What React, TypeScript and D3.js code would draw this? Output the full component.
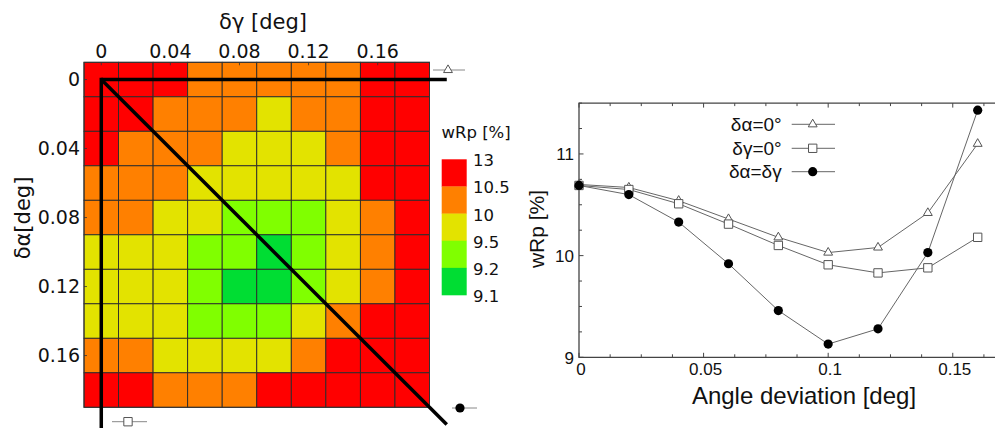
import React from "react";
import * as d3 from "d3";

// ---------- data ----------
const steps = [0, 0.02, 0.04, 0.06, 0.08, 0.1, 0.12, 0.14, 0.16, 0.18];
const heatTicks = [0, 0.04, 0.08, 0.12, 0.16];
const heatTickLabels = ["0", "0.04", "0.08", "0.12", "0.16"];

// rows: δα, columns: δγ
const wRpGrid = [
  [10.7, 10.67, 10.54, 10.36, 10.18, 10.03, 10.08, 10.42, 11.1, 11.9],
  [10.65, 10.6, 10.45, 10.3, 10.12, 9.98, 10.05, 10.3, 10.9, 11.6],
  [10.51, 10.45, 10.33, 10.15, 9.9, 9.8, 9.85, 10.2, 10.8, 11.4],
  [10.31, 10.25, 10.1, 9.92, 9.75, 9.62, 9.7, 9.95, 10.6, 11.2],
  [10.1, 10.02, 9.9, 9.7, 9.46, 9.35, 9.4, 9.75, 10.35, 11.0],
  [9.91, 9.85, 9.75, 9.48, 9.3, 9.13, 9.22, 9.6, 10.25, 10.9],
  [9.83, 9.78, 9.7, 9.4, 9.18, 9.15, 9.28, 9.65, 10.3, 11.0],
  [9.88, 9.82, 9.72, 9.45, 9.32, 9.38, 9.7, 10.03, 10.7, 11.3],
  [10.18, 10.1, 9.95, 9.8, 9.75, 9.9, 10.3, 10.8, 11.43, 12.0],
  [10.9, 10.7, 10.45, 10.3, 10.35, 10.6, 11.0, 11.5, 12.1, 12.6],
];

const binEdges = [13, 10.5, 10, 9.5, 9.2, 9.1];
const binEdgeLabels = ["13", "10.5", "10", "9.5", "9.2", "9.1"];
const binColors = ["#ff0000", "#ff8000", "#e3e300", "#80ff00", "#00dd33"];

const lineX = [0, 0.02, 0.04, 0.06, 0.08, 0.1, 0.12, 0.14, 0.16];
const dAlpha0 = [10.7, 10.67, 10.54, 10.36, 10.18, 10.03, 10.08, 10.42, 11.1];
const dGamma0 = [10.69, 10.65, 10.51, 10.31, 10.1, 9.91, 9.83, 9.88, 10.18];
const dEqual = [10.69, 10.6, 10.33, 9.92, 9.46, 9.13, 9.28, 10.03, 11.43];
const lineXTicks = [0, 0.05, 0.1, 0.15];
const lineXTickLabels = ["0", "0.05", "0.1", "0.15"];
const lineYTicks = [9, 10, 11];
const seriesNames = ["δα=0°", "δγ=0°", "δα=δγ"];

// ---------- helpers ----------
const HF = "'DejaVu Sans', Verdana, sans-serif";
const LF = "'Liberation Sans', Arial, sans-serif";
const lineGray = "#666";

function Marker({ kind, x, y }: { kind: string; x: number; y: number }) {
  if (kind === "tri") {
    const p = d3.symbol().type(d3.symbolTriangle).size(34)();
    return <path d={p || ""} transform={`translate(${x},${y})`} fill="#fff" stroke="#555" strokeWidth={1} />;
  }
  if (kind === "sq") {
    const p = d3.symbol().type(d3.symbolSquare).size(70)();
    return <path d={p || ""} transform={`translate(${x},${y})`} fill="#fff" stroke="#555" strokeWidth={1} />;
  }
  return <circle cx={x} cy={y} r={4.6} fill="#000" />;
}

export default function App() {
  // heatmap scales
  const xH = d3.scaleLinear().domain([-0.01, 0.19]).range([84, 429.5]);
  const yH = d3.scaleLinear().domain([-0.01, 0.19]).range([62.3, 407.3]);
  const color = d3
    .scaleThreshold<number, string>()
    .domain(binEdges.slice(1, 5).reverse())
    .range(binColors.slice().reverse());

  // colorbar scale
  const yCB = d3.scaleLinear().domain([0, binEdges.length - 1]).range([159.3, 295]);

  // line chart scales
  const xL = d3.scaleLinear().domain([0, 0.17]).range([579, 1002.6]);
  const yL = d3.scaleLinear().domain([9, 11.5]).range([357.3, 103.1]);
  const line = d3
    .line<number>()
    .x((_, i) => xL(lineX[i]))
    .y((d) => yL(d));

  const series = [
    { name: seriesNames[0], vals: dAlpha0, kind: "tri" },
    { name: seriesNames[1], vals: dGamma0, kind: "sq" },
    { name: seriesNames[2], vals: dEqual, kind: "dot" },
  ];

  const xMinor = d3.range(0, 0.1701, 0.0125);
  const yMinor = d3.range(9, 11.501, 0.25);

  const x0 = xH(0);
  const y0 = yH(0);

  return (
    <svg
      width={995}
      height={428}
      style={{ position: "absolute", left: 0, top: 0, background: "#fff" }}
    >
      <rect x={0} y={0} width={995} height={428} fill="#fff" />

      {/* ---------- heatmap ---------- */}
      <g>
        {wRpGrid.map((row, r) =>
          row.map((v, c) => (
            <rect
              key={`${r}-${c}`}
              x={xH(steps[c] - 0.01)}
              y={yH(steps[r] - 0.01)}
              width={xH(steps[c] + 0.01) - xH(steps[c] - 0.01)}
              height={yH(steps[r] + 0.01) - yH(steps[r] - 0.01)}
              fill={color(v)}
              stroke="#2a2a2a"
              strokeWidth={0.9}
            />
          ))
        )}
        <rect
          x={xH(-0.01)}
          y={yH(-0.01)}
          width={xH(0.19) - xH(-0.01)}
          height={yH(0.19) - yH(-0.01)}
          fill="none"
          stroke="#333"
          strokeWidth={1}
        />
        {heatTicks.map((t, i) => (
          <g key={`ht${i}`}>
            <line x1={xH(t)} x2={xH(t)} y1={yH(-0.01)} y2={yH(-0.01) + 3} stroke="#333" strokeWidth={0.8} />
            <line x1={xH(-0.01)} x2={xH(-0.01) + 3} y1={yH(t)} y2={yH(t)} stroke="#333" strokeWidth={0.8} />
            <text x={xH(t)} y={58} textAnchor="middle" fontFamily={HF} fontSize={19} fill="#111">
              {heatTickLabels[i]}
            </text>
            <text x={80} y={yH(t)} dy="0.36em" textAnchor="end" fontFamily={HF} fontSize={19} fill="#111">
              {heatTickLabels[i]}
            </text>
          </g>
        ))}
        <text x={263} y={29} textAnchor="middle" fontFamily={HF} fontSize={21} fill="#111">
          δγ [deg]
        </text>
        <text
          transform={`translate(30,218) rotate(-90)`}
          textAnchor="middle"
          fontFamily={HF}
          fontSize={21}
          fill="#111"
        >
          δα[deg]
        </text>

        {/* thick paths */}
        <line x1={x0} y1={y0} x2={xH(0.2)} y2={y0} stroke="#000" strokeWidth={3.5} strokeLinecap="butt" />
        <line x1={x0} y1={y0 - 1.7} x2={x0} y2={yH(0.21)} stroke="#000" strokeWidth={3.5} />
        <line x1={x0} y1={y0} x2={xH(0.2)} y2={yH(0.2)} stroke="#000" strokeWidth={3.5} />

        {/* small path legends */}
        <line x1={433} x2={465} y1={70} y2={70} stroke="#888" strokeWidth={1} />
        <Marker kind="tri" x={448} y={70} />
        <line x1={112} x2={147} y1={421.7} y2={421.7} stroke="#888" strokeWidth={1} />
        <Marker kind="sq" x={128} y={421.7} />
        <line x1={452} x2={477} y1={408} y2={408} stroke="#888" strokeWidth={1} />
        <Marker kind="dot" x={460} y={408} />

        {/* colorbar */}
        <text x={441.5} y={138} fontFamily={HF} fontSize={16.5} fill="#111">
          wRp [%]
        </text>
        {binColors.map((c, i) => (
          <rect key={`cb${i}`} x={441.7} y={yCB(i)} width={25} height={yCB(i + 1) - yCB(i) + 0.3} fill={c} />
        ))}
        {binEdgeLabels.map((l, i) => (
          <text key={`cbl${i}`} x={473} y={yCB(i) + 7} fontFamily={HF} fontSize={16.5} fill="#111">
            {l}
          </text>
        ))}
      </g>

      {/* ---------- line chart ---------- */}
      <g>
        {/* frame */}
        <path
          d={`M${xL(0.17)},${yL(11.5)} H${xL(0)} V${yL(9)} H${xL(0.17)}`}
          fill="none"
          stroke="#444"
          strokeWidth={1.3}
        />
        {xMinor.map((t, i) => {
          const major = lineXTicks.some((m) => Math.abs(m - t) < 1e-6);
          const len = major ? 4.5 : 3;
          return (
            <g key={`xm${i}`}>
              <line x1={xL(t)} x2={xL(t)} y1={yL(9)} y2={yL(9) - len} stroke="#444" strokeWidth={1} />
              <line x1={xL(t)} x2={xL(t)} y1={yL(11.5)} y2={yL(11.5) + len} stroke="#444" strokeWidth={1} />
            </g>
          );
        })}
        {yMinor.map((t, i) => {
          const major = lineYTicks.some((m) => Math.abs(m - t) < 1e-6);
          const len = major ? 4.5 : 3;
          return <line key={`ym${i}`} x1={xL(0)} x2={xL(0) + len} y1={yL(t)} y2={yL(t)} stroke="#444" strokeWidth={1} />;
        })}
        {lineXTicks.map((t, i) => (
          <text key={`xl${i}`} x={xL(t) + 2} y={375} textAnchor="middle" fontFamily={LF} fontSize={17} fill="#111">
            {lineXTickLabels[i]}
          </text>
        ))}
        {lineYTicks.map((t, i) => (
          <text key={`yl${i}`} x={574} y={yL(t) + (t === 9 ? 7 : 6)} textAnchor="end" fontFamily={LF} fontSize={17} fill="#111">
            {String(t)}
          </text>
        ))}
        <text x={804} y={404} textAnchor="middle" fontFamily={LF} fontSize={24} fill="#111">
          Angle deviation [deg]
        </text>
        <text transform={`translate(544,229) rotate(-90)`} textAnchor="middle" fontFamily={LF} fontSize={21} fill="#111">
          wRp [%]
        </text>

        {series.map((s) => (
          <path key={`p${s.kind}`} d={line(s.vals) || ""} fill="none" stroke={lineGray} strokeWidth={1} />
        ))}
        {series.map((s) =>
          s.vals.map((v, i) => <Marker key={`m${s.kind}${i}`} kind={s.kind} x={xL(lineX[i])} y={yL(v)} />)
        )}

        {/* legend */}
        {series.map((s, i) => {
          const ly = [124.3, 148.3, 171.7][i];
          return (
            <g key={`lg${i}`}>
              <text x={781.7} y={ly + 6.5} textAnchor="end" fontFamily={LF} fontSize={19} fill="#111">
                {s.name}
              </text>
              <line x1={791.7} x2={835} y1={ly} y2={ly} stroke={lineGray} strokeWidth={1} />
              <Marker kind={s.kind} x={812.7} y={ly} />
            </g>
          );
        })}
      </g>
    </svg>
  );
}
